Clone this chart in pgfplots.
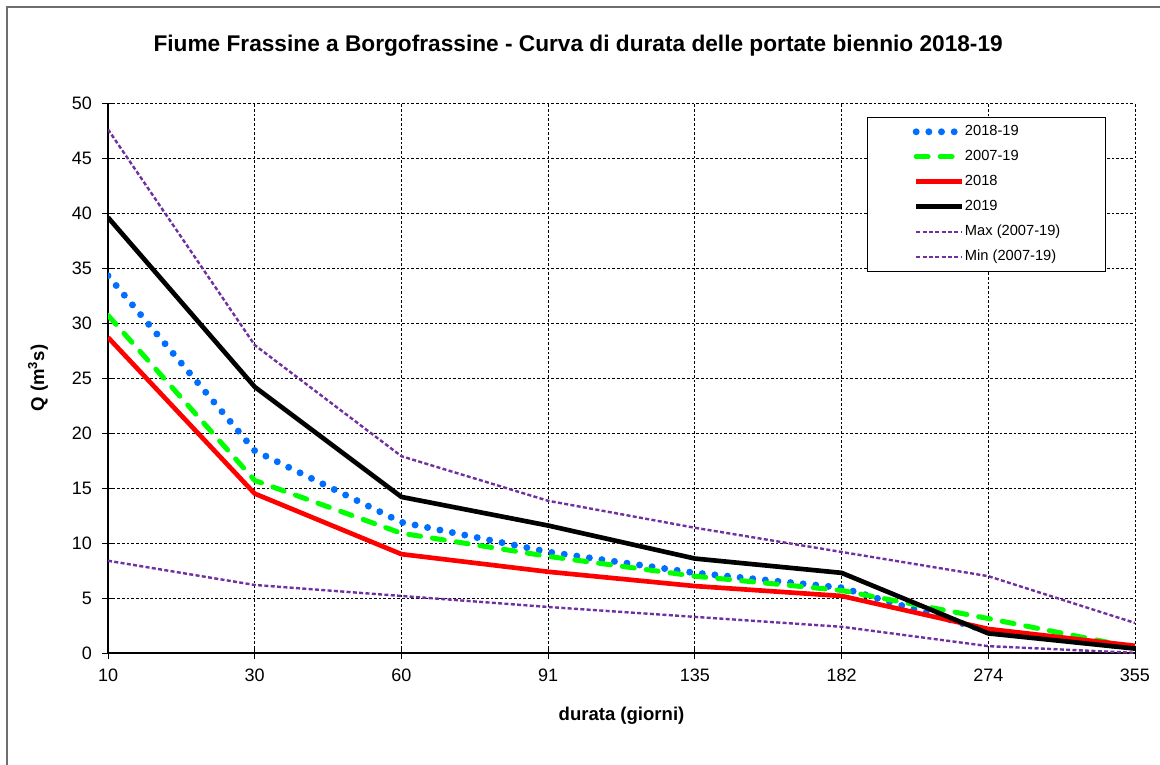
\documentclass[border=0pt]{standalone}
\usepackage{fontspec}
\setmainfont{Liberation Sans}
\usepackage{pgfplots}
\pgfplotsset{compat=1.18}

\definecolor{cBlue}{RGB}{0,110,255}
\definecolor{cGreen}{RGB}{0,255,0}
\definecolor{cRed}{RGB}{255,0,0}
\definecolor{cPurple}{RGB}{112,48,160}
\definecolor{cFrame}{RGB}{110,110,110}

% x = category index: 10,30,60,91,135,182,274,355 giorni
\pgfplotstableread{
x  b1819 g0719 r2018 k2019 qmax  qmin
0  34.3  30.7  28.7  39.6  47.6  8.4
1  18.4  15.7  14.5  24.2  28.0  6.2
2  11.9  10.9  9.0   14.2  17.9  5.2
3  9.2   8.8   7.4   11.6  13.85 4.2
4  7.3   7.0   6.1   8.6   11.4  3.3
5  5.95  5.7   5.2   7.3   9.2   2.4
6  2.0   3.15  2.2   1.8   7.0   0.64
7  0.5   0.5   0.67  0.42  2.75  0.03
}\portate

\begin{document}
\begin{tikzpicture}
\path[use as bounding box] (-81pt,-83.25pt) rectangle (788.75pt,489.75pt);
\draw[cFrame, line width=1.5pt] (-75.75pt,-90pt) -- (-75.75pt,484.5pt) -- (795pt,484.5pt);
\begin{axis}[
    at={(0pt,0pt)}, anchor=south west,
    scale only axis,
    width=770pt, height=412.5pt,
    xmin=0, xmax=7, ymin=0, ymax=50,
    xtick={0,...,7},
    xticklabels={10,30,60,91,135,182,274,355},
    ytick={0,5,...,50},
    axis lines*=left,
    axis line style={black, line width=1.5pt},
    tick align=center,
    major tick length=9pt,
    tick style={black, line width=0.6pt},
    grid=major,
    major grid style={black, line width=0.6pt, dash pattern=on 2pt off 1.5pt},
    /pgf/number format/assume math mode=true,
    ticklabel style={font=\fontsize{13.5}{15}\selectfont},
    yticklabel style={xshift=-4pt},
    xticklabel style={yshift=-4pt},
    xlabel={\textbf{durata (giorni)}},
    ylabel={\textbf{Q (m\textsuperscript{3}s)}},
    label style={font=\fontsize{13.9}{16}\selectfont},
    xlabel style={at={(axis description cs:0.5,-0.1145)}, anchor=center},
    ylabel style={at={(axis description cs:-0.0682,0.5)}, anchor=center},
    legend style={at={(0.739,0.9745)}, anchor=north west, draw=black, line width=0.6pt,
        font=\fontsize{11}{13}\selectfont, inner xsep=34pt, inner ysep=5.5pt,
        row sep=8.25pt,
        nodes={inner sep=0pt, text height=8pt, text depth=2.5pt, anchor=west}},
    legend cell align=left,
    legend image code/.code={\draw[#1] (0pt,0pt) -- (34pt,0pt);},
]
\addplot[cBlue, line width=5.2pt, line cap=round, dash pattern=on 0pt off 9.5pt] table[x=x, y=b1819] {\portate};
\addlegendentry{2018-19}
\addplot[cGreen, line width=3.75pt, line cap=round, dash pattern=on 9pt off 9pt] table[x=x, y=g0719] {\portate};
\addlegendentry{2007-19}
\addplot[cRed, line width=3.5pt, line join=round] table[x=x, y=r2018] {\portate};
\addlegendentry{2018}
\addplot[black, line width=3.5pt, line join=round] table[x=x, y=k2019] {\portate};
\addlegendentry{2019}
\addplot[cPurple, line width=1.8pt, dash pattern=on 3pt off 1.75pt] table[x=x, y=qmax] {\portate};
\addlegendentry{Max (2007-19)}
\addplot[cPurple, line width=1.8pt, dash pattern=on 3pt off 1.75pt] table[x=x, y=qmin] {\portate};
\addlegendentry{Min (2007-19)}
\end{axis}
\node[font=\bfseries\fontsize{17}{19}\selectfont] at (352.5pt,455.25pt)
    {Fiume Frassine a Borgofrassine - Curva di durata delle portate biennio 2018-19};
\end{tikzpicture}
\end{document}
